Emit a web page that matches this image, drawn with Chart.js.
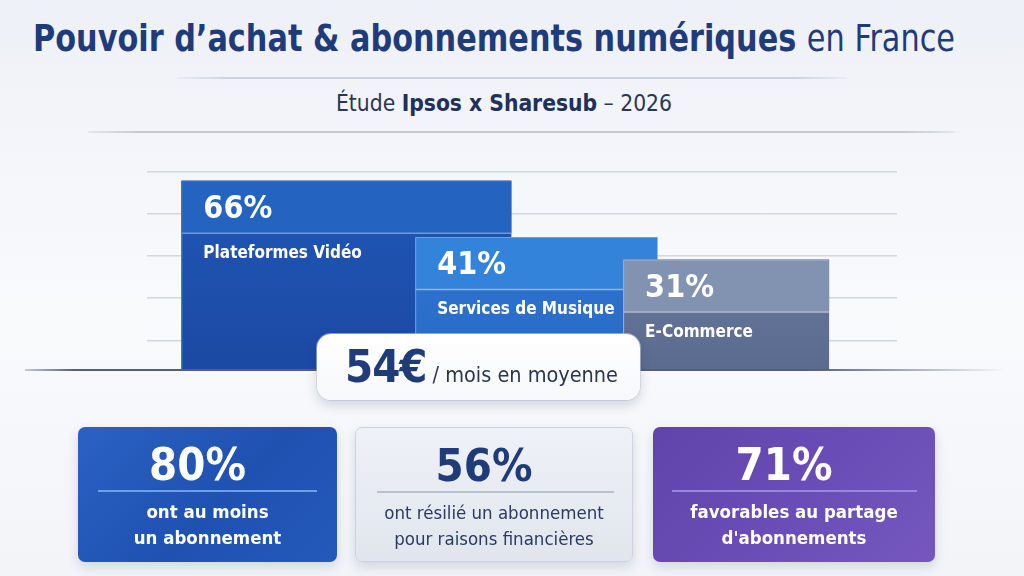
<!DOCTYPE html>
<html lang="fr">
<head>
<meta charset="utf-8">
<title>Pouvoir d'achat &amp; abonnements numériques en France</title>
<script src="https://cdn.jsdelivr.net/npm/chart.js@4.4.1/dist/chart.umd.min.js"></script>
<style>
  html, body { margin: 0; padding: 0; }
  body {
    width: 1024px; height: 576px; overflow: hidden; position: relative;
    background: linear-gradient(180deg, #edf0f6 0%, #f5f6fa 30%, #f9fafc 55%, #f2f4f8 100%);
    font-family: "DejaVu Sans Condensed", "Liberation Sans Narrow", "Liberation Sans", sans-serif;
  }
  #title {
    position: absolute; left: 33px; top: 13px; font-size: 38px; line-height: 50px;
    color: #1f3b7a; font-weight: bold; white-space: nowrap; transform-origin: left center;
  }
  #title .light { font-weight: normal; }
  #subtitle {
    position: absolute; left: 336px; top: 86px; font-size: 23px; line-height: 34px;
    color: #2a3656; white-space: nowrap; transform-origin: left center;
  }
  #subtitle b { color: #1f3158; }
  .rule { position: absolute; height: 2px; }
  #rule1 { left: 177px; width: 670px; top: 77px; background: linear-gradient(90deg, rgba(200,205,214,0.2), #cdd2da 8%, #cdd2da 92%, rgba(200,205,214,0.2)); }
  #rule2 { left: 88px; width: 867px; top: 131px; background: linear-gradient(90deg, rgba(190,196,206,0.3), #c4c9d2 6%, #c4c9d2 94%, rgba(190,196,206,0.3)); }
  #chart { position: absolute; left: 0; top: 0; z-index: 1; }
  #baseline {
    position: absolute; left: 25px; top: 369px; width: 980px; height: 2px; z-index: 2;
    background: linear-gradient(90deg, rgba(80,90,115,0.3), #555f78 5%, #555f78 80%, rgba(85,95,120,0));
  }
  #avg {
    position: absolute; left: 317px; top: 334px; width: 323px; height: 66px; z-index: 3;
    background: linear-gradient(180deg, #ffffff, #f7f8fb); border-radius: 14px;
    box-shadow: 0 5px 12px rgba(30, 50, 90, 0.18), 0 0 0 1px rgba(210, 215, 225, 0.6);
  }
  #avgText {
    position: absolute; left: 28px; top: 6px; white-space: nowrap; transform-origin: left center;
    color: #2a3550; font-size: 21px; line-height: 54px;
  }
  #avgText b { font-size: 44px; color: #1f3b7a; letter-spacing: -1px; }
  .card {
    position: absolute; top: 427px; height: 135px; border-radius: 7px; z-index: 2;
    box-shadow: 0 5px 12px rgba(40, 60, 100, 0.16);
  }
  .card .num {
    position: absolute; left: 0; right: 0; top: 11px; text-align: center;
    font-size: 45px; line-height: 54px; font-weight: bold; transform: translateX(-10px);
  }
  .card .rule2 { position: absolute; top: 63px; height: 2px; }
  .card .txt {
    position: absolute; left: 0; right: 0; top: 72px; text-align: center;
    font-size: 18.5px; line-height: 26px;
  }
  #card0 { left: 78px; width: 259px; color: #fff; background: linear-gradient(135deg, #2a62c3 0%, #1f51b1 55%, #2459ba 100%); }
  #card0 .rule2 { left: 20px; right: 20px; background: #6f9fe6; }
  #card0 .txt { font-weight: bold; }
  #card1 { left: 355px; width: 276px; height: 133px; background: linear-gradient(180deg, #eef1f6 0%, #e1e6ee 100%); border: 1px solid #cdd3de; }
  #card1 .num { color: #1f3b7a; }
  #card1 .rule2 { left: 21px; right: 18px; background: #b9c1cd; }
  #card1 .txt { color: #2a3a62; }
  #card2 { left: 653px; width: 282px; color: #fff; background: linear-gradient(135deg, #6044ac 0%, #6a4db6 55%, #7657c0 100%); }
  #card2 .rule2 { left: 19px; right: 18px; background: #9b86dc; }
  #card2 .txt { font-weight: bold; }
</style>
</head>
<body>
<div id="title"><span>Pouvoir d’achat &amp; abonnements numériques</span> <span class="light">en France</span></div>
<div class="rule" id="rule1"></div>
<div id="subtitle">Étude <b>Ipsos x Sharesub</b> – 2026</div>
<div class="rule" id="rule2"></div>
<canvas id="chart" width="1024" height="576"></canvas>
<div id="baseline"></div>
<div id="avg"><div id="avgText"></div></div>
<div class="card" id="card0"><div class="num"></div><div class="rule2"></div><div class="txt"></div></div>
<div class="card" id="card1"><div class="num"></div><div class="rule2"></div><div class="txt"></div></div>
<div class="card" id="card2"><div class="num"></div><div class="rule2"></div><div class="txt"></div></div>

<script>
// Data
const categories = ['Plateformes Vidéo', 'Services de Musique', 'E-Commerce'];
const shares = [66, 41, 31];                 // % of subscribers per category
const avgMonthly = 54;                       // € per month
const kpiValues = [80, 56, 71];              // %
const kpiLines = [
    ['ont au moins', 'un abonnement'],
    ['ont résilié un abonnement', 'pour raisons financières'],
    ['favorables au partage', "d'abonnements"]
];
const gridSteps = [0, 1, 2, 3, 4];           // background guide lines

const FONT = '"DejaVu Sans Condensed", "Liberation Sans Narrow", "Liberation Sans", sans-serif';

// bar looks (widths are relative to the category step)
const barStyles = [
    { width: 1.738, head: '#2463c0', top: '#2159b8', bottom: '#1b49a4', rule: '#6a9ce6', edge: '#3a74cc' },
    { width: 1.275, head: '#3483da', top: '#2f79d3', bottom: '#2a6bc8', rule: '#86b5ef', edge: '#6aa3ea' },
    { width: 1.085, head: '#8292b1', top: '#7384a6', bottom: '#5b6b8f', rule: '#b3bdd0', edge: '#a3afc6' }
];

// fit some html text to the width it has in the layout
function fitWidth(el, target) {
    const w = el.getBoundingClientRect().width;
    if (w > 0) el.style.transform = 'scaleX(' + (target / w) + ')';
}

// HTML parts
document.getElementById('avgText').innerHTML = '<b>' + avgMonthly + '€</b> / mois en moyenne';
kpiValues.forEach((v, i) => {
    const card = document.getElementById('card' + i);
    card.querySelector('.num').textContent = v + '%';
    card.querySelector('.txt').innerHTML = kpiLines[i].join('<br>');
});
fitWidth(document.getElementById('title'), 922);
fitWidth(document.getElementById('subtitle'), 336);
fitWidth(document.getElementById('avgText'), 273);

// labels drawn on top of each bar, right after that bar is painted
const barLabels = {
    id: 'barLabels',
    afterDatasetDraw(chart, args) {
        const i = args.index;
        const bar = args.meta.data[0];
        if (!bar) return;
        const { x, y, width, base } = bar.getProps(['x', 'y', 'width', 'base'], true);
        const left = x - width / 2;
        const s = barStyles[i];
        const c = chart.ctx;
        c.save();
        c.fillStyle = s.head;
        c.fillRect(left, y, width, 52);
        c.strokeStyle = s.rule;
        c.lineWidth = 1.5;
        c.beginPath();
        c.moveTo(left, y + 52.5);
        c.lineTo(left + width, y + 52.5);
        c.stroke();
        // light edge
        c.strokeStyle = s.edge;
        c.lineWidth = 1;
        c.beginPath();
        c.moveTo(left + 0.5, base);
        c.lineTo(left + 0.5, y + 0.5);
        c.lineTo(left + width - 0.5, y + 0.5);
        c.stroke();
        c.fillStyle = '#ffffff';
        c.textBaseline = 'middle';
        c.font = 'bold 32px ' + FONT;
        c.fillText(shares[i] + '%', left + 22, y + 29);
        c.font = 'bold 17px ' + FONT;
        c.fillText(categories[i], left + 22, y + 73);
        c.restore();
    }
};

function barFill(i) {
    return (ctx) => {
        const chart = ctx.chart;
        const area = chart.chartArea;
        if (!area) return barStyles[i].top;
        const g = chart.ctx.createLinearGradient(0, area.top, 0, area.bottom);
        g.addColorStop(0, barStyles[i].top);
        g.addColorStop(1, barStyles[i].bottom);
        return g;
    };
}

const datasets = categories.map((name, i) => ({
    label: name,
    data: [{ x: i + 1, y: shares[i] }],
    base: -18,
    backgroundColor: barFill(i),
    borderWidth: 0,
    grouped: false,
    categoryPercentage: 1,
    barPercentage: barStyles[i].width,
    order: categories.length - i,   // later bars sit on top
    xAxisID: 'x',
    yAxisID: 'y'
}));

new Chart(document.getElementById('chart'), {
    type: 'bar',
    data: { datasets },
    options: {
        responsive: false,
        animation: false,
        devicePixelRatio: 1,
        layout: { padding: { left: 147, right: 127, top: 160, bottom: 206 } },
        plugins: { legend: { display: false }, tooltip: { enabled: false } },
        scales: {
            x: {
                type: 'linear', min: -0.05, max: 3.9, display: false, offset: false,
                grid: { offset: false },
                afterBuildTicks: (s) => { s.ticks = categories.map((c, i) => ({ value: i + 1 })); }
            },
            y: { type: 'linear', min: -18, max: 75.2, display: false },
            yg: {
                type: 'linear', position: 'left', min: -0.7, max: 4.27,
                afterBuildTicks: (s) => { s.ticks = gridSteps.map(v => ({ value: v })); },
                afterFit: (s) => { s.width = 0; },
                ticks: { display: false },
                border: { display: false },
                grid: { color: '#d2d6dd', lineWidth: 1.5, drawTicks: false }
            }
        }
    },
    plugins: [barLabels]
});
</script>
</body>
</html>
